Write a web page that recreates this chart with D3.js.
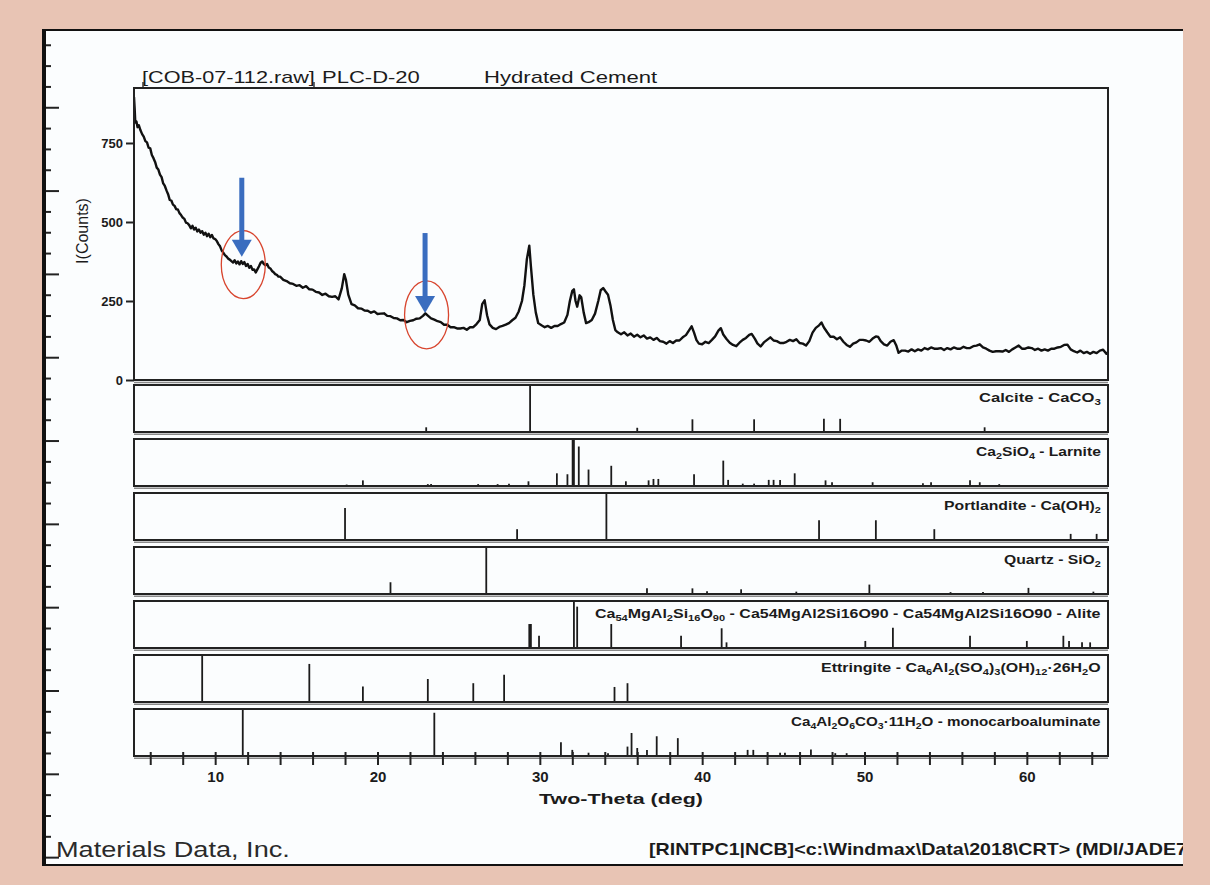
<!DOCTYPE html>
<html><head><meta charset="utf-8">
<script src="https://cdn.jsdelivr.net/npm/d3@7"></script>
<style>
html,body{margin:0;padding:0;background:#E8C4B4;}
svg{display:block;}
</style></head><body>
<svg id="chart" width="1210" height="885"></svg>
<script>
// ---------------- DATA ----------------
const titleFile = "[COB-07-112.raw]";
const titleSample = "PLC-D-20";
const titleDesc = "Hydrated Cement";
const yLabel = "I(Counts)";
const xLabel = "Two-Theta (deg)";
const footerLeft = "Materials Data, Inc.";
const footerRight = "[RINTPC1|NCB]<c:\\Windmax\\Data\\2018\\CRT> (MDI/JADE7)";
const yTickValues = [0, 250, 500, 750];
const xMajorTicks = [10, 20, 30, 40, 50, 60];
const xMinorTicks = [6,8,10,12,14,16,18,20,22,24,26,28,30,32,34,36,38,40,42,44,46,48,50,52,54,56,58,60,62,64];

// measured pattern: [two-theta, counts]
const scanPattern = [
[5.0,895],[5.04,860],[5.08,815],[5.15,818],[5.22,800],[5.3,806],[5.4,790],[5.5,778],[5.6,770],[5.7,756],
[5.8,752],[5.9,735],[6.0,733],[6.1,712],[6.2,702],[6.3,690],[6.4,672],[6.5,666],[6.6,650],[6.7,642],
[6.8,622],[6.9,614],[7.0,600],[7.1,588],[7.2,570],[7.3,568],[7.4,555],[7.5,551],[7.6,540],[7.7,540],
[7.8,528],[7.9,522],[8.0,514],[8.1,510],[8.2,498],[8.3,496],[8.4,490],[8.5,480],[8.6,488],[8.7,476],
[8.8,482],[8.9,470],[9.0,476],[9.1,466],[9.2,471],[9.3,460],[9.4,466],[9.5,455],[9.6,463],[9.7,452],
[9.8,459],[9.9,448],[10.0,446],[10.1,440],[10.2,430],[10.3,423],[10.4,410],[10.5,403],[10.6,395],[10.7,391],
[10.8,384],[10.9,381],[11.0,376],[11.1,372],[11.2,379],[11.3,369],[11.4,375],[11.5,366],[11.6,376],[11.7,367],
[11.8,373],[11.9,361],[12.0,367],[12.1,355],[12.2,361],[12.3,349],[12.4,350],[12.5,340],[12.6,350],[12.7,360],
[12.8,371],[12.9,375],[13.0,367],[13.1,363],[13.2,367],[13.3,356],[13.4,353],[13.5,345],[13.6,341],[13.7,335],
[13.8,333],[13.9,327],[14.0,327],[14.2,317],[14.4,313],[14.6,306],[14.8,304],[15.0,298],[15.2,300],[15.4,292],
[15.6,297],[15.8,287],[16.0,286],[16.2,279],[16.4,277],[16.6,269],[16.8,273],[17.0,265],[17.2,263],[17.4,265],
[17.6,255],[17.8,290],[17.95,335],[18.05,318],[18.2,270],[18.4,240],[18.6,236],[18.8,227],[19.0,226],[19.2,220],
[19.4,219],[19.6,213],[19.8,217],[20.0,209],[20.2,210],[20.4,211],[20.6,203],[20.8,202],[21.0,196],[21.2,195],
[21.4,189],[21.6,190],[21.8,183],[22.0,187],[22.2,189],[22.4,194],[22.6,195],[22.8,203],[22.95,211],[23.1,204],
[23.3,195],[23.5,191],[23.7,186],[23.9,183],[24.1,175],[24.3,175],[24.5,167],[24.7,167],[24.9,163],[25.1,163],
[25.3,165],[25.5,159],[25.7,167],[25.9,167],[26.1,177],[26.3,190],[26.45,240],[26.6,252],[26.75,205],[26.9,176],
[27.1,165],[27.3,161],[27.5,168],[27.7,171],[27.9,175],[28.1,180],[28.3,189],[28.5,197],[28.7,217],[28.9,250],
[29.05,300],[29.2,382],[29.35,425],[29.45,360],[29.6,270],[29.75,214],[29.9,180],[30.1,173],[30.3,167],[30.5,171],
[30.7,165],[30.9,171],[31.1,171],[31.3,177],[31.5,182],[31.7,206],[31.85,250],[32.0,282],[32.1,287],[32.2,250],
[32.3,232],[32.45,268],[32.55,262],[32.7,214],[32.85,180],[33.0,183],[33.2,190],[33.4,210],[33.6,250],[33.75,284],
[33.9,291],[34.05,280],[34.2,270],[34.35,236],[34.5,190],[34.65,158],[34.8,151],[35.0,145],[35.2,151],[35.4,141],
[35.6,147],[35.8,137],[36.0,143],[36.2,135],[36.4,141],[36.6,131],[36.8,135],[37.0,127],[37.2,133],[37.4,123],
[37.6,121],[37.8,115],[38.0,123],[38.2,117],[38.4,125],[38.6,125],[38.8,135],[39.0,142],[39.2,158],[39.35,170],
[39.5,150],[39.65,126],[39.8,115],[40.0,113],[40.2,121],[40.4,117],[40.6,127],[40.8,138],[41.0,156],[41.15,164],
[41.3,144],[41.5,130],[41.7,118],[41.9,111],[42.1,107],[42.3,118],[42.5,127],[42.7,133],[42.9,143],[43.05,146],
[43.25,130],[43.4,116],[43.6,106],[43.8,119],[44.0,127],[44.2,135],[44.4,125],[44.6,123],[44.8,117],[45.0,117],
[45.2,121],[45.4,127],[45.6,123],[45.8,129],[46.0,117],[46.2,115],[46.4,109],[46.6,123],[46.8,150],[47.0,165],
[47.2,173],[47.35,182],[47.5,166],[47.7,151],[47.9,137],[48.1,137],[48.3,129],[48.5,135],[48.7,121],[48.9,111],
[49.1,105],[49.3,115],[49.5,119],[49.7,127],[49.9,127],[50.1,125],[50.3,121],[50.5,131],[50.7,138],[50.85,136],
[51.0,123],[51.2,113],[51.4,109],[51.6,121],[51.8,126],[51.95,110],[52.1,86],[52.3,93],[52.5,93],[52.7,90],
[52.9,97],[53.1,91],[53.3,97],[53.5,93],[53.7,101],[53.9,97],[54.1,103],[54.3,99],[54.5,99],[54.7,101],
[54.9,95],[55.1,101],[55.3,97],[55.5,103],[55.7,99],[55.9,99],[56.1,105],[56.3,101],[56.5,101],[56.7,107],
[56.9,109],[57.1,113],[57.3,103],[57.5,99],[57.7,93],[57.9,89],[58.1,91],[58.3,91],[58.5,90],[58.7,95],
[58.9,89],[59.1,97],[59.3,103],[59.5,109],[59.7,99],[59.9,99],[60.1,103],[60.3,101],[60.5,95],[60.7,99],
[60.9,93],[61.1,97],[61.3,93],[61.5,99],[61.7,99],[61.9,103],[62.1,105],[62.3,111],[62.5,112],[62.7,97],
[62.9,91],[63.1,87],[63.3,93],[63.5,85],[63.7,89],[63.9,83],[64.1,89],[64.3,85],[64.5,93],[64.7,96],
[64.9,83],[65.0,88]
];

// annotations: [two-theta, arrow-top counts, arrow-tip counts, ellipse-centre counts]
const arrowMarks = [[11.64, 640, 390, 365], [22.93, 465, 212, 206]];

// reference stick patterns: [two-theta, relative intensity %]
const calciteSticks = [[23.0,10],[29.4,100],[36.0,9],[39.4,27],[43.2,27],[47.5,28],[48.5,28],[57.4,10]];
const larniteSticks = [[18.1,3],[19.1,12],[23.1,4],[23.3,4],[26.2,4],[27.4,4],[28.1,5],[29.3,10],[31.05,27],[31.7,25],
  [32.02,100],[32.1,100],[32.4,84],[33.0,35],[34.4,43],[35.3,10],[36.7,12],[37.0,15],[37.3,15],[39.5,25],[41.3,54],
  [41.6,13],[42.5,5],[43.2,5],[44.1,13],[44.4,13],[44.8,13],[45.7,27],[47.6,12],[48.0,8],[50.5,8],[53.6,6],[54.1,8],
  [56.5,12],[57.1,8],[58.3,4]];
const portlanditeSticks = [[18.0,68],[28.6,23],[34.1,100],[47.2,42],[50.7,42],[54.3,23],[62.7,13],[64.3,13]];
const quartzSticks = [[20.8,25],[26.7,100],[36.6,12],[39.4,12],[40.3,6],[42.4,10],[45.8,5],[50.3,20],[55.3,4],[57.3,4],[60.1,13],[64.1,5]];
const aliteSticks = [[29.35,51],[29.45,51],[29.95,26],[32.1,100],[32.3,88],[34.4,51],[38.7,26],[41.2,42],[41.5,12],[50.05,15],
  [51.75,43],[56.5,26],[60.0,15],[62.25,26],[62.6,15],[63.4,12],[63.9,12]];
const ettringiteSticks = [[9.2,100],[15.8,81],[19.1,33],[23.1,49],[25.9,40],[27.8,58],[34.6,32],[35.4,40]];
const monocarboSticks = [[11.7,100],[23.5,92],[31.3,29],[32.0,13],[33.0,7],[34.2,6],[35.4,20],[35.65,49],[36.0,17],[36.6,13],
  [37.2,42],[38.5,38],[42.8,13],[43.15,13],[44.8,7],[45.1,7],[46.7,14],[48.2,6],[48.9,6]];

const calciteLabel = [["Calcite - CaCO",0],["3",1]];
const larniteLabel = [["Ca",0],["2",1],["SiO",0],["4",1],[" - Larnite",0]];
const portlanditeLabel = [["Portlandite - Ca(OH)",0],["2",1]];
const quartzLabel = [["Quartz - SiO",0],["2",1]];
const aliteLabel = [["Ca",0],["54",1],["MgAl",0],["2",1],["Si",0],["16",1],["O",0],["90",1],[" - Ca54MgAl2Si16O90 - Ca54MgAl2Si16O90 - Alite",0]];
const ettringiteLabel = [["Ettringite - Ca",0],["6",1],["Al",0],["2",1],["(SO",0],["4",1],[")",0],["3",1],["(OH)",0],["12",1],["\u00B726H",0],["2",1],["O",0]];
const monocarboLabel = [["Ca",0],["4",1],["Al",0],["2",1],["O",0],["6",1],["CO",0],["3",1],["\u00B711H",0],["2",1],["O - monocarboaluminate",0]];

const phaseIds = ["calcite","larnite","portlandite","quartz","alite","ettringite","monocarbo"];
const phaseSticks = [calciteSticks, larniteSticks, portlanditeSticks, quartzSticks, aliteSticks, ettringiteSticks, monocarboSticks];
const phaseLabels = [calciteLabel, larniteLabel, portlanditeLabel, quartzLabel, aliteLabel, ettringiteLabel, monocarboLabel];
const phaseLabelWidths = [122, 125, 157, 97, 506, 280, 310];

// ---------------- DRAWING ----------------
const svg = d3.select("#chart");
const FONT = "'Liberation Sans', Arial, Helvetica, sans-serif";
const INK = "#1b1b1b";

function fitText(sel, x, y, width, anchor) {
  const w = sel.node().getBBox().width;
  const s = width / w;
  const tx = anchor === "end" ? x - width : anchor === "middle" ? x - width / 2 : x;
  sel.attr("transform", `translate(${tx},${y}) scale(${s},1)`);
}
function addText(parent, str, size, weight) {
  return parent.append("text").attr("x", 0).attr("y", 0)
    .attr("font-family", FONT).attr("font-size", size).attr("font-weight", weight || "normal")
    .attr("fill", INK).text(str);
}

// background and page
svg.append("rect").attr("width", 1210).attr("height", 885).attr("fill", "#E8C4B4");
svg.append("rect").attr("x", 42).attr("y", 29).attr("width", 1141).attr("height", 837).attr("fill", "#FBFDFE");
svg.append("line").attr("x1", 42).attr("x2", 1183).attr("y1", 30).attr("y2", 30).attr("stroke", "#111").attr("stroke-width", 2);
svg.append("line").attr("x1", 42).attr("x2", 1183).attr("y1", 865).attr("y2", 865).attr("stroke", "#111").attr("stroke-width", 2);
svg.append("rect").attr("x", 42).attr("y", 29).attr("width", 4).attr("height", 837).attr("fill", "#111");
// ruler marks on the page edge
const rulerY = d3.range(-31, 9).map(k => ({y: 691 + 20.83 * k, long: k % 4 === 0}));
svg.append("g").selectAll("line").data(rulerY.filter(d => d.y > 34 && d.y < 862)).join("line")
  .attr("x1", 46).attr("x2", d => d.long ? 59 : 51).attr("y1", d => d.y).attr("y2", d => d.y)
  .attr("stroke", "#222").attr("stroke-width", 2);

// scales
const left = 134, right = 1108, mainTop = 88, mainBottom = 380;
const x = d3.scaleLinear().domain([5, 65]).range([left, right]);
const yMain = d3.scaleLinear().domain([0, 924]).range([mainBottom, mainTop]);

// title
const t1 = addText(svg, titleFile, 16); fitText(t1, 142, 83, 173, "start");
const t2 = addText(svg, titleSample, 16); fitText(t2, 322, 83, 98, "start");
const t3 = addText(svg, titleDesc, 16); fitText(t3, 484, 83, 174, "start");
svg.append("line").attr("x1", 143).attr("x2", 143).attr("y1", 82).attr("y2", 88).attr("stroke", INK).attr("stroke-width", 1.3);
svg.append("line").attr("x1", 314).attr("x2", 314).attr("y1", 82).attr("y2", 88).attr("stroke", INK).attr("stroke-width", 1.3);

// main plot
svg.append("clipPath").attr("id", "clipMain").append("rect")
  .attr("x", left).attr("y", mainTop).attr("width", right - left).attr("height", mainBottom - mainTop);
svg.append("path").datum(scanPattern)
  .attr("clip-path", "url(#clipMain)")
  .attr("fill", "none").attr("stroke", "#111").attr("stroke-width", 2.4).attr("stroke-linejoin", "round")
  .attr("d", d3.line().x(d => x(d[0])).y(d => yMain(d[1])));
svg.append("rect").attr("x", left).attr("y", mainTop).attr("width", right - left).attr("height", mainBottom - mainTop)
  .attr("fill", "none").attr("stroke", "#222").attr("stroke-width", 2);
svg.append("line").attr("x1", left).attr("x2", right).attr("y1", mainBottom + 2.5).attr("y2", mainBottom + 2.5)
  .attr("stroke", "#8a8a8a").attr("stroke-width", 1.5);

// y axis
const yAxisG = svg.append("g").attr("transform", `translate(${left},0)`)
  .call(d3.axisLeft(yMain).tickValues(yTickValues).tickSize(8).tickPadding(3));
yAxisG.select(".domain").remove();
yAxisG.selectAll(".tick line").attr("stroke", "#222").attr("stroke-width", 2);
yAxisG.selectAll(".tick text").attr("font-family", FONT).attr("font-size", 13).attr("font-weight", "bold").attr("fill", INK);

const yl = svg.append("text").attr("font-family", FONT).attr("font-size", 16).attr("fill", INK)
  .attr("text-anchor", "middle").attr("transform", "translate(88,231) rotate(-90)").text(yLabel);

// annotations: ellipses and arrows
const ann = svg.append("g");
arrowMarks.forEach(a => {
  const ax = x(a[0]);
  ann.append("ellipse").attr("cx", ax + 1.5).attr("cy", yMain(a[3])).attr("rx", 22).attr("ry", 34)
    .attr("fill", "none").attr("stroke", "#D8452E").attr("stroke-width", 1.3);
  const tip = yMain(a[2]), top = yMain(a[1]);
  ann.append("rect").attr("x", ax - 2.5).attr("y", top).attr("width", 5).attr("height", tip - top - 14)
    .attr("fill", "#3A6DBF");
  ann.append("path").attr("d", `M${ax - 10},${tip - 17} L${ax + 10},${tip - 17} L${ax},${tip} Z`).attr("fill", "#3A6DBF");
});

// phase panels
const band = d3.scaleBand().domain(phaseIds).range([385, 756]).paddingInner(7 / 54).paddingOuter(0);
phaseIds.forEach((id, i) => {
  const top = band(id), bottom = top + band.bandwidth();
  const py = d3.scaleLinear().domain([0, 100]).range([bottom, top]);
  const g = svg.append("g");
  g.selectAll("line.stick").data(phaseSticks[i]).join("line").attr("class", "stick")
    .attr("x1", d => x(d[0])).attr("x2", d => x(d[0]))
    .attr("y1", bottom).attr("y2", d => py(d[1]))
    .attr("stroke", INK).attr("stroke-width", 1.8);
  g.append("rect").attr("x", left).attr("y", top).attr("width", right - left).attr("height", bottom - top)
    .attr("fill", "none").attr("stroke", "#222").attr("stroke-width", 2);
  g.append("line").attr("x1", left).attr("x2", right).attr("y1", bottom + 2.3).attr("y2", bottom + 2.3)
    .attr("stroke", "#8a8a8a").attr("stroke-width", 1.5);
  // label with subscripts
  const lt = g.append("text").attr("x", 0).attr("y", 0).attr("font-family", FONT)
    .attr("font-size", 13).attr("font-weight", "bold").attr("fill", INK);
  let sub = false;
  phaseLabels[i].forEach(seg => {
    const ts = lt.append("tspan").text(seg[0]);
    if (seg[1] && !sub) { ts.attr("dy", 3).attr("font-size", 9); sub = true; }
    else if (seg[1]) { ts.attr("font-size", 9); }
    else if (!seg[1] && sub) { ts.attr("dy", -3); sub = false; }
  });
  fitText(lt, 1101, top + 17, phaseLabelWidths[i], "end");
});

// x axis on last panel
const lastBottom = band(phaseIds[phaseIds.length - 1]) + band.bandwidth();
const xAxisG = svg.append("g").attr("transform", `translate(0,${lastBottom})`)
  .call(d3.axisBottom(x).tickValues(xMinorTicks).tickSize(9)
    .tickFormat(d => xMajorTicks.includes(d) ? d : ""));
xAxisG.select(".domain").remove();
xAxisG.selectAll(".tick line").attr("y1", -4).attr("y2", 9).attr("stroke", "#222").attr("stroke-width", 2);
xAxisG.selectAll(".tick text").attr("y", 26).attr("dy", 0).attr("font-family", FONT)
  .attr("font-size", 15).attr("font-weight", "bold").attr("fill", INK);

const xl = addText(svg, xLabel, 15, "bold"); fitText(xl, 621, 804, 164, "middle");

// footer
const f1 = svg.append("text").attr("x", 0).attr("y", 0).attr("font-family", FONT).attr("font-size", 22)
  .attr("fill", "#2a2a2a").text(footerLeft);
fitText(f1, 56, 857, 234, "start");
svg.append("clipPath").attr("id", "clipPage").append("rect").attr("x", 42).attr("y", 29).attr("width", 1141).attr("height", 837);
const fg = svg.append("g").attr("clip-path", "url(#clipPage)");
const f2 = fg.append("text").attr("x", 0).attr("y", 0).attr("font-family", FONT).attr("font-size", 16)
  .attr("font-weight", "bold").attr("fill", INK).text(footerRight);
fitText(f2, 649, 855, 545, "start");
</script>
</body></html>
